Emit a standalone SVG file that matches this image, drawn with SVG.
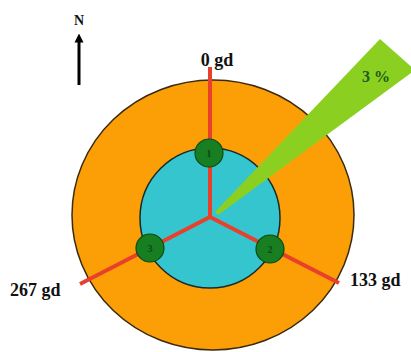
<svg xmlns="http://www.w3.org/2000/svg" width="411" height="352" viewBox="0 0 411 352">
<defs>
<style>
.lbl{font-family:"Liberation Serif","Times New Roman",serif;font-weight:bold;fill:#111;}
.red{stroke:#E8402A;stroke-width:4;stroke-linecap:butt;fill:none;}
.node{fill:#177F22;stroke:#0B4A12;stroke-width:1.2;}
.nlbl{font-family:"Liberation Serif",serif;font-size:11px;font-weight:bold;fill:#0D4D14;text-anchor:middle;}
</style>
<marker id="ah" viewBox="0 0 10 10" refX="5" refY="5" markerWidth="9" markerHeight="12" markerUnits="userSpaceOnUse" orient="auto">
<path d="M0,0 L10,5 L0,10 z" fill="#000"/>
</marker>
</defs>
<rect width="411" height="352" fill="#fff"/>
<g id="north">
<line x1="79" y1="85" x2="79" y2="38" stroke="#000" stroke-width="3" marker-end="url(#ah)"/>
<text class="lbl" x="79" y="25" font-size="14" text-anchor="middle">N</text>
</g>
<g id="outer">
<ellipse cx="213" cy="215" rx="141" ry="135" fill="#FC9F06" stroke="#3a2a10" stroke-width="1.5"/>
</g>
<g id="inner">
<circle cx="210" cy="218" r="70" fill="#35C5CE" stroke="#1a2a2a" stroke-width="1.5"/>
</g>
<g id="wedge">
<polygon points="215,212 380,39 415,70 218,215" fill="#8BD020"/>
<text x="376" y="82" font-family="Liberation Serif,serif" font-weight="bold" font-size="16" fill="#1C5A1A" text-anchor="middle">3 %</text>
</g>
<g id="connectors">
<line class="red" x1="210" y1="217" x2="210" y2="67"/>
<line class="red" x1="210" y1="217" x2="339" y2="283"/>
<line class="red" x1="210" y1="217" x2="80" y2="284"/>
</g>
<g id="node1">
<circle class="node" cx="209" cy="153" r="14"/>
<text class="nlbl" x="209" y="157">1</text>
</g>
<g id="node2">
<circle class="node" cx="270" cy="249" r="14"/>
<text class="nlbl" x="270" y="253">2</text>
</g>
<g id="node3">
<circle class="node" cx="150" cy="248" r="14"/>
<text class="nlbl" x="150" y="252">3</text>
</g>
<g id="labels">
<text class="lbl" x="217" y="66" font-size="18" text-anchor="middle">0 gd</text>
<text class="lbl" x="10" y="296" font-size="18">267 gd</text>
<text class="lbl" x="350" y="286" font-size="18">133 gd</text>
</g>
</svg>
